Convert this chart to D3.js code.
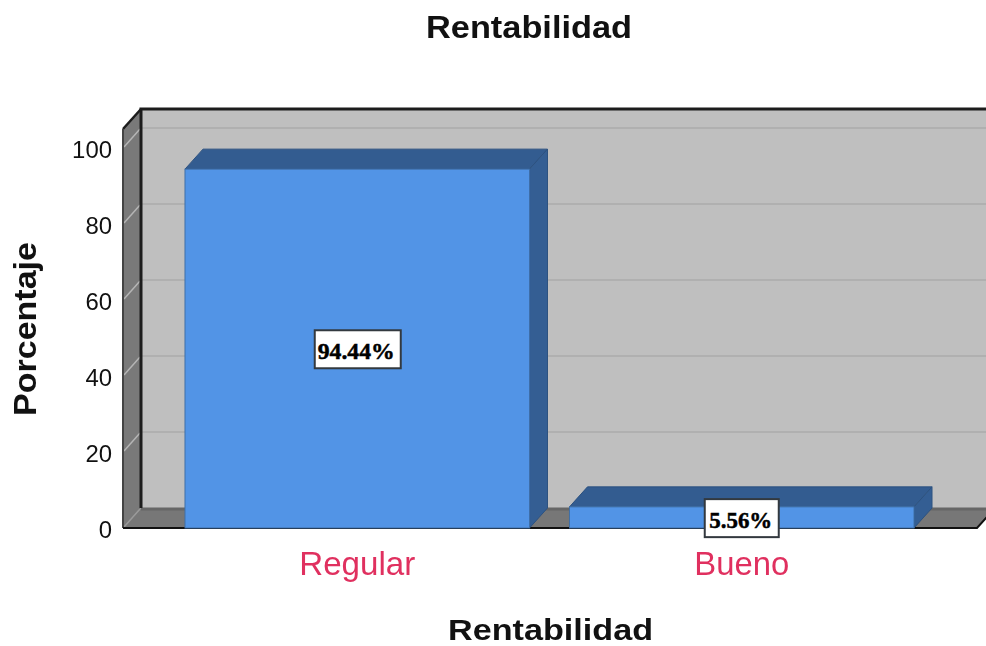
<!DOCTYPE html>
<html><head><meta charset="utf-8">
<script src="https://cdn.jsdelivr.net/npm/d3@7/dist/d3.min.js"></script>
<style>html,body{margin:0;padding:0;background:#fff}svg{display:block;filter:blur(.55px)}text{font-family:"Liberation Sans",Arial,sans-serif}</style>
</head><body><svg id="c" width="986" height="646"></svg>
<script>
const categories = ["Regular", "Bueno"];
const percentages = [94.44, 5.56];
const valueLabels = ["94.44%", "5.56%"];
const yTicks = [0, 20, 40, 60, 80, 100];
const chartTitle = "Rentabilidad";
const xTitle = "Rentabilidad";
const yTitle = "Porcentaje";

const W = 986, H = 646;
const pL = 123, pR = 977, pB = 528, pT = 129, dx = 18, dy = -20;
const svg = d3.select("#c").attr("viewBox", [0, 0, W, H]);
const y = d3.scaleLinear().domain([0, 105]).range([pB, pT]);
const x = d3.scaleBand().domain(categories).range([165, 934]).paddingInner(0.104).paddingOuter(0.052);
const path = pts => "M" + pts.map(p => p.join(",")).join("L") + "Z";

// back wall
svg.append("rect").attr("x", pL + dx).attr("y", pT + dy).attr("width", W - pL - dx + 30).attr("height", pB - pT)
  .attr("fill", "#bfbfbf");
// back-wall gridlines
svg.append("g").selectAll("line").data(yTicks.slice(1)).join("line")
  .attr("x1", pL + dx).attr("x2", W)
  .attr("y1", d => y(d) + dy).attr("y2", d => y(d) + dy)
  .attr("stroke", "#b0b0b0").attr("stroke-width", 2);
// left wall
svg.append("path").attr("d", path([[pL, pT], [pL + dx, pT + dy], [pL + dx, pB + dy], [pL, pB]]))
  .attr("fill", "#797979");
// floor
svg.append("path").attr("d", path([[pL, pB], [pL + dx, pB + dy], [pR + dx, pB + dy], [pR, pB]]))
  .attr("fill", "#777777");
svg.append("line").attr("x1", pL + dx).attr("x2", W).attr("y1", pB + dy + 1).attr("y2", pB + dy + 1)
  .attr("stroke", "#666").attr("stroke-width", 3);
// left-wall tick diagonals
svg.append("g").selectAll("line").data(yTicks).join("line")
  .attr("x1", pL + 1).attr("x2", pL + dx - 1)
  .attr("y1", d => y(d) - 1).attr("y2", d => y(d) + dy + 1)
  .attr("stroke", d => d === 0 ? "#9a9a9a" : "#b5b5b5").attr("stroke-width", 1.5);
// frame
svg.append("path").attr("fill", "none").attr("stroke", "#1c1c1c").attr("stroke-width", 3)
  .attr("d", `M${pL + dx},${pB + dy}V${pT + dy}H${W + 5}`);
svg.append("path").attr("fill", "none").attr("stroke", "#1c1c1c").attr("stroke-width", 2.5)
  .attr("d", `M${pL + dx},${pT + dy}L${pL},${pT}`);
svg.append("line").attr("x1", pL).attr("x2", pL).attr("y1", pT).attr("y2", pB)
  .attr("stroke", "#444").attr("stroke-width", 2);
svg.append("path").attr("fill", "none").attr("stroke", "#111").attr("stroke-width", 2)
  .attr("d", `M${pL},${pB}H${pR}L${pR + dx},${pB + dy}`);

// bars
const rows = categories.map((c, i) => ({c, v: percentages[i], l: valueLabels[i]}));
const bars = svg.append("g").selectAll("g").data(rows).join("g");
bars.append("path").attr("fill", "#335c90").attr("stroke", "#2d5280")
  .attr("d", d => path([[x(d.c), y(d.v)], [x(d.c) + dx, y(d.v) + dy], [x(d.c) + x.bandwidth() + dx, y(d.v) + dy], [x(d.c) + x.bandwidth(), y(d.v)]]));
bars.append("path").attr("fill", "#345e93").attr("stroke", "#2d5280")
  .attr("d", d => path([[x(d.c) + x.bandwidth(), y(d.v)], [x(d.c) + x.bandwidth() + dx, y(d.v) + dy], [x(d.c) + x.bandwidth() + dx, y(0) + dy], [x(d.c) + x.bandwidth(), y(0)]]));
bars.append("rect").attr("fill", "#5294e6").attr("stroke", "#3f6fa8").attr("stroke-width", 1)
  .attr("x", d => x(d.c)).attr("y", d => y(d.v)).attr("width", x.bandwidth()).attr("height", d => y(0) - y(d.v));

// value labels
const lab = svg.append("g").selectAll("g").data(rows).join("g")
  .attr("transform", d => `translate(${x(d.c) + x.bandwidth() / 2},${y(d.v / 2) + 0.7})`);
lab.append("rect").attr("x", d => d.l.length > 5 ? -42.5 : -37).attr("width", d => d.l.length > 5 ? 86 : 74)
  .attr("y", -19).attr("height", 38).attr("fill", "#fff").attr("stroke", "#33393f").attr("stroke-width", 2);
lab.append("text").attr("text-anchor", "middle").attr("x", -1).attr("y", 9.5).attr("font-size", 24).attr("font-weight", 700)
  .attr("stroke", "#000").attr("stroke-width", 0.5)
  .attr("textLength", d => d.l.length > 5 ? 77 : 63).attr("lengthAdjust", "spacingAndGlyphs")
  .style("font-family", '"Liberation Serif","Times New Roman",serif').attr("fill", "#000").text(d => d.l);

// y axis labels
const yAxis = d3.axisLeft(y).tickValues(yTicks).tickSize(0).tickPadding(11);
const gy = svg.append("g").attr("transform", `translate(${pL},0)`).call(yAxis);
gy.select(".domain").remove();
gy.selectAll("text").attr("font-size", 23.5).attr("fill", "#111").style("font-family", '"Liberation Sans",Arial,sans-serif')
  .attr("dy", "0.42em").attr("textLength", d => String(d).length * 13.3).attr("lengthAdjust", "spacingAndGlyphs");

// x axis labels
const xAxis = d3.axisBottom(x).tickSize(0).tickPadding(23);
const gx = svg.append("g").attr("transform", `translate(0,${pB})`).call(xAxis);
gx.select(".domain").remove();
gx.selectAll("text").attr("font-size", 34).attr("fill", "#e0305f").style("font-family", '"Liberation Sans",Arial,sans-serif')
  .attr("textLength", d => d === "Regular" ? 116 : 95).attr("lengthAdjust", "spacingAndGlyphs");

// titles
const boldTitle = s => s.attr("text-anchor", "middle").attr("font-size", 32).attr("font-weight", 700).attr("fill", "#111").attr("lengthAdjust", "spacingAndGlyphs");
svg.append("text").attr("x", 529).attr("y", 38).attr("textLength", 206).call(boldTitle).text(chartTitle);
svg.append("text").attr("x", 550.5).attr("y", 639.5).attr("textLength", 205).call(boldTitle).attr("font-size", 29.5).text(xTitle);
svg.append("text").attr("transform", "translate(36,329) rotate(-90)").attr("textLength", 174).call(boldTitle).text(yTitle);
</script></body></html>
